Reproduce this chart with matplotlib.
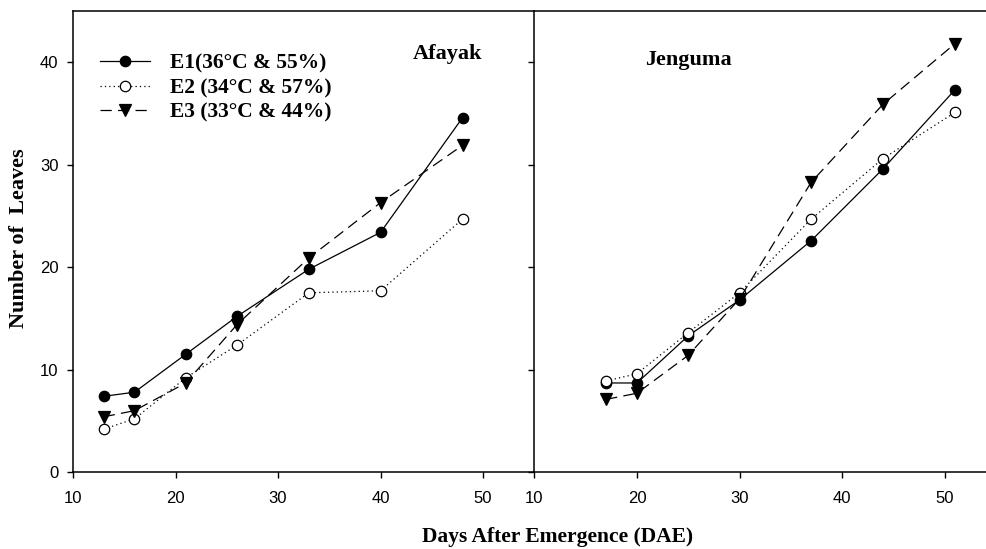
import matplotlib
matplotlib.use('Agg')
import matplotlib.pyplot as plt

# Afayak site
days_afayak = [13, 16, 21, 26, 33, 40, 48]
e1_afayak = [7.4, 7.8, 11.5, 15.2, 19.8, 23.4, 34.6]
e2_afayak = [4.2, 5.2, 9.2, 12.4, 17.5, 17.7, 24.7]
e3_afayak = [5.4, 6.0, 8.7, 14.4, 20.9, 26.3, 31.9]

# Jenguma site
days_jenguma = [17, 20, 25, 30, 37, 44, 51]
e1_jenguma = [8.7, 8.7, 13.3, 16.8, 22.6, 29.6, 37.3]
e2_jenguma = [8.9, 9.6, 13.6, 17.5, 24.7, 30.6, 35.1]
e3_jenguma = [7.1, 7.7, 11.4, 16.9, 28.3, 35.9, 41.8]

labels = ['E1(36°C & 55%)', 'E2 (34°C & 57%)', 'E3 (33°C & 44%)']
x_ticks = [10, 20, 30, 40, 50]
y_ticks = [0, 10, 20, 30, 40]

SERIF = ['Liberation Serif', 'DejaVu Serif']
SANS = ['Liberation Sans', 'DejaVu Sans']

plt.rcParams['font.family'] = SANS

styles = [
    dict(color='black', linestyle='-', marker='o', markerfacecolor='black', markersize=7.5),
    dict(color='black', linestyle=(0, (1, 2.5)), marker='o', markerfacecolor='white', markersize=7.5),
    dict(color='black', linestyle=(0, (9, 5)), marker='v', markerfacecolor='black', markersize=8),
]


def draw_panel(ax, days, series, show_yticklabels):
    lines = []
    for y, st, lab in zip(series, styles, labels):
        ln, = ax.plot(days, y, linewidth=0.9,
                      markeredgecolor='black', markeredgewidth=0.9,
                      label=lab, clip_on=False, **st)
        lines.append(ln)
    ax.set_xlim(10, 55)
    ax.set_ylim(0, 45)
    ax.set_xticks(x_ticks)
    ax.set_yticks(y_ticks)
    ax.tick_params(direction='out', length=4.5, width=1, labelsize=12)
    ax.tick_params(axis='x', pad=9)
    ax.tick_params(axis='y', pad=6)
    if not show_yticklabels:
        ax.tick_params(axis='y', labelleft=False)
    ax.spines['right'].set_visible(False)
    for s in ax.spines.values():
        s.set_linewidth(1.1)
    return lines


fig = plt.figure(figsize=(9.86, 5.49), dpi=100)

ax1 = fig.add_axes([0.074, 0.140, 0.468, 0.840])
ax2 = fig.add_axes([0.542, 0.140, 0.468, 0.840])

lines = draw_panel(ax1, days_afayak, [e1_afayak, e2_afayak, e3_afayak], True)
draw_panel(ax2, days_jenguma, [e1_jenguma, e2_jenguma, e3_jenguma], False)

ax1.text(0.737, 0.906, 'Afayak', transform=ax1.transAxes, fontsize=16,
         fontweight='bold', family=SERIF, va='center')
ax2.text(0.24, 0.893, 'Jenguma', transform=ax2.transAxes, fontsize=16,
         fontweight='bold', family=SERIF, va='center')

ax1.legend(handles=lines, loc='upper left', bbox_to_anchor=(0.0585, 0.907),
           frameon=False, prop={'family': SERIF, 'weight': 'bold', 'size': 15.5},
           handlelength=2.32, handletextpad=0.93, labelspacing=0.2,
           borderpad=0, borderaxespad=0)

fig.text(0.0193, 0.5665, 'Number of  Leaves', rotation=90, ha='center',
         va='center', fontsize=16, fontweight='bold', family=SERIF)
fig.text(0.565, 0.022, 'Days After Emergence (DAE)', ha='center', va='center',
         fontsize=15.5, fontweight='bold', family=SERIF)

fig.savefig('out.png', dpi=100)
